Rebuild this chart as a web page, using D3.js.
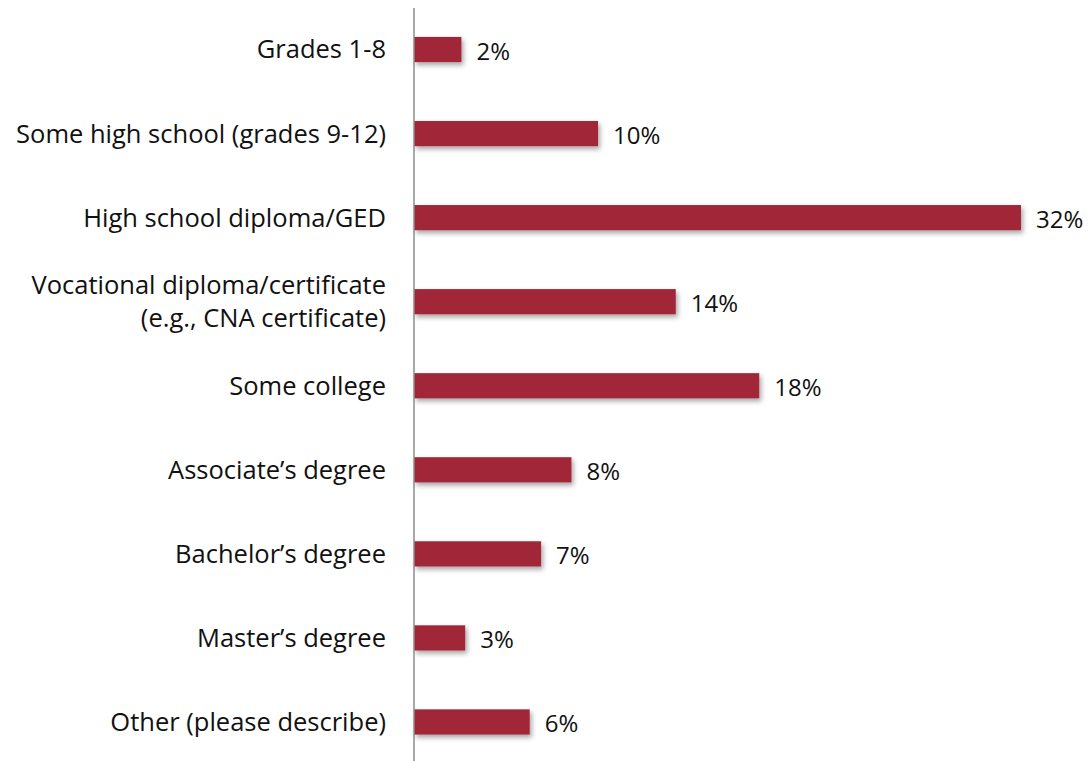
<!DOCTYPE html>
<html>
<head>
<meta charset="utf-8">
<script src="https://cdn.jsdelivr.net/npm/d3@7"></script>
<style>
  body { margin: 0; background: #fff; }
  text { font-family: "Open Sans", Lato, sans-serif; fill: #111; }
</style>
</head>
<body>
<svg id="chart" width="1092" height="761"></svg>
<script>
var categories = [
    "Grades 1-8",
    "Some high school (grades 9-12)",
    "High school diploma/GED",
    "Vocational diploma/certificate\n(e.g., CNA certificate)",
    "Some college",
    "Associate\u2019s degree",
    "Bachelor\u2019s degree",
    "Master\u2019s degree",
    "Other (please describe)"
];
var values = [2.5, 9.7, 32, 13.8, 18.2, 8.3, 6.7, 2.7, 6.1];
var valueLabels = ["2%", "10%", "32%", "14%", "18%", "8%", "7%", "3%", "6%"];

var svg = d3.select("#chart"),
    width = +svg.attr("width"),
    height = +svg.attr("height");

var x0 = 414;

var x = d3.scaleLinear()
    .domain([0, 32])
    .range([x0, 1021]);

var y = d3.scaleBand()
    .domain(categories)
    .range([7.5, 764])
    .paddingInner(0.7)
    .paddingOuter(0.35);

var defs = svg.append("defs");
var shadow = defs.append("filter")
    .attr("id", "shadow")
    .attr("x", "-10%").attr("y", "-30%")
    .attr("width", "130%").attr("height", "180%");
shadow.append("feDropShadow")
    .attr("dx", 2).attr("dy", 3)
    .attr("stdDeviation", 2.5)
    .attr("flood-color", "#000")
    .attr("flood-opacity", 0.35);

var data = categories.map(function (c, i) {
    return {cat: c, value: values[i], label: valueLabels[i]};
});

svg.append("g")
    .selectAll("rect")
    .data(data)
    .enter().append("rect")
    .attr("x", x(0))
    .attr("y", function (d) { return y(d.cat); })
    .attr("width", function (d) { return x(d.value) - x(0); })
    .attr("height", y.bandwidth())
    .attr("fill", "#a02838")
    .attr("filter", "url(#shadow)");

// category axis line
svg.append("line")
    .attr("x1", x0).attr("x2", x0)
    .attr("y1", 8).attr("y2", height)
    .attr("stroke", "#8c8c8c")
    .attr("stroke-width", 1.5);

// category labels
var catText = svg.append("g")
    .selectAll("text")
    .data(data)
    .enter().append("text")
    .attr("x", 386)
    .attr("text-anchor", "end")
    .style("font-size", "25.5px");

catText.each(function (d) {
    var lines = d.cat.split("\n"),
        cy = y(d.cat) + y.bandwidth() / 2,
        lh = 33,
        start = cy - (lines.length - 1) * lh / 2;
    var t = d3.select(this);
    lines.forEach(function (l, i) {
        t.append("tspan")
            .attr("x", 386)
            .attr("y", start + i * lh)
            .attr("dy", "0.35em")
            .text(l);
    });
});

// value labels
svg.append("g")
    .selectAll("text")
    .data(data)
    .enter().append("text")
    .attr("x", function (d) { return x(d.value) + 15; })
    .attr("y", function (d) { return y(d.cat) + y.bandwidth() / 2 + 2; })
    .attr("dy", "0.35em")
    .style("font-size", "24px")
    .text(function (d) { return d.label; });
</script>
</body>
</html>
